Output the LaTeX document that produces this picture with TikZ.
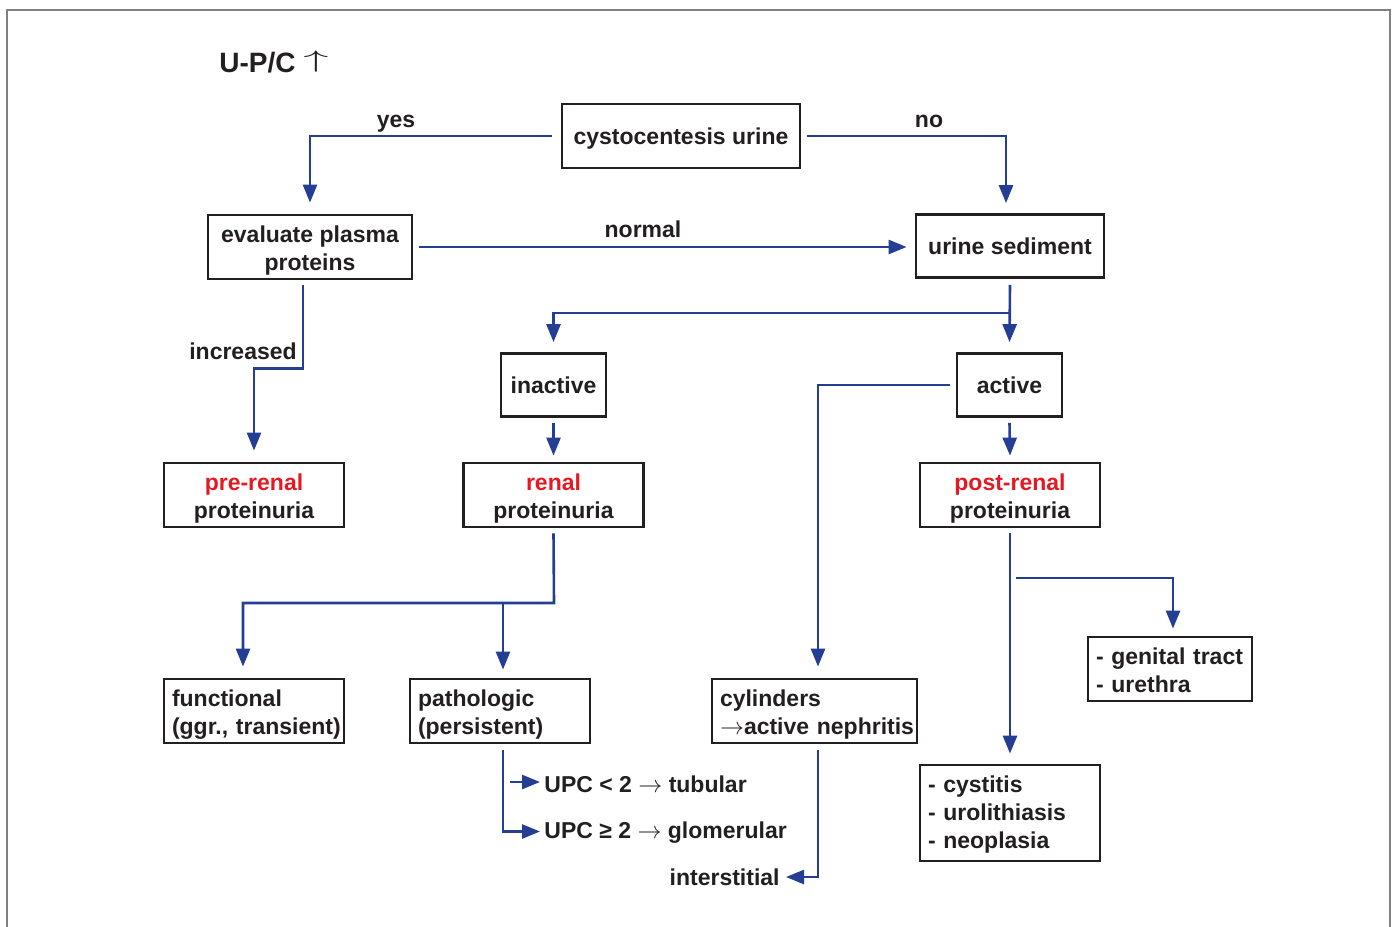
\documentclass[tikz,border=0pt]{standalone}
\usepackage{fontspec}
\usepackage{graphicx}
\setmainfont{Liberation Sans}
\usetikzlibrary{arrows.meta}
\definecolor{fblue}{RGB}{36,62,148}
\definecolor{fred}{RGB}{230,24,34}
\definecolor{fblack}{RGB}{35,31,32}
\definecolor{fgray}{RGB}{128,128,128}
\newcommand{\rar}{$\rightarrow$}
\begin{document}
\begin{tikzpicture}[x=0.5pt,y=-0.5pt,
  txt/.style={font=\bfseries\fontsize{11.5}{14}\selectfont, text=fblack},
  box/.style={txt, draw=fblack, line width=1.4pt, rectangle, inner sep=0pt, align=center, minimum height=32pt, text height=8.4pt, text depth=0pt},
  ctwo/.style={text height=23.5pt, text depth=0pt},
  two/.style={text depth=12.9pt},
  three/.style={text depth=28.9pt},
  lbox/.style={box, inner xsep=4pt, align=left},
  lbl/.style={txt, inner sep=0pt, anchor=base},
  conn/.style={draw=fblue, line width=1.3pt, -{Triangle[length=9pt,width=7pt]}}]
\useasboundingbox (0,0) rectangle (1397,926);
\draw[fgray, line width=1pt] (7,930) -- (7,10) -- (1390,10) -- (1390,930);

% title
\node[anchor=base west, inner sep=0pt, font=\bfseries\fontsize{14}{16}\selectfont, text=fblack] (title) at (219,72) {U-P/C \raisebox{2.2pt}{\fontsize{11.5}{14}\selectfont\scalebox{2.1}[1]{$\uparrow$}}};

% boxes
\node[box, minimum width=119pt] (cysto) at (681,136) {cystocentesis urine};
\node[box, ctwo, minimum width=102pt] (eval) at (310,247) {evaluate plasma\\proteins};
\node[box, minimum width=94pt, minimum height=31.5pt] (sed) at (1010,246) {urine sediment};
\node[box, minimum width=52.5pt, minimum height=31.5pt] (inact) at (553.5,385) {inactive};
\node[box, minimum width=52.5pt, minimum height=31.5pt] (act) at (1009.5,385) {active};
\node[box, ctwo, minimum width=90pt] (pre) at (254,495) {{\color{fred}pre-renal}\\proteinuria};
\node[box, ctwo, minimum width=90pt] (renal) at (553.5,495) {{\color{fred}renal}\\proteinuria};
\node[box, ctwo, minimum width=90pt] (post) at (1010,495) {{\color{fred}post-renal}\\proteinuria};
\node[lbox, two, text width=82pt] (func) at (254,711) {\mbox{functional}\\\mbox{(ggr., transient)}};
\node[lbox, two, text width=82pt] (path) at (500,711) {\mbox{pathologic}\\\mbox{(persistent)}};
\node[lbox, two, text width=94.5pt] (cyl) at (814.5,711) {\mbox{cylinders}\\\mbox{\rar active nephritis}};
\node[lbox, two, text width=74pt] (gen) at (1170,669) {\mbox{- genital tract}\\\mbox{- urethra}};
\node[lbox, three, text width=82pt, minimum height=48pt] (cyst) at (1010,813) {\mbox{- cystitis}\\\mbox{- urolithiasis}\\\mbox{- neoplasia}};

% free labels
\node[lbl] (yes) at (396,127) {yes};
\node[lbl] (no) at (929,127) {no};
\node[lbl] (normal) at (643,237) {normal};
\node[lbl] (incr) at (243,359.5) {increased};
\node[lbl, anchor=base west] (upc1) at (544,792) {UPC < 2 \rar\ tubular};
\node[lbl, anchor=base west] (upc2) at (544,838.5) {UPC ≥ 2 \rar\ glomerular};
\node[lbl, anchor=base east] (inter) at (780,885) {interstitial};

% connectors
\draw[conn] ([xshift=-4.5pt]cysto.west) -| ([yshift=5.5pt]eval.north);
\draw[conn] ([xshift=3pt]cysto.east) -| ([xshift=-2pt,yshift=5pt]sed.north);
\draw[conn] ([xshift=3pt]eval.east) -- ([xshift=-4pt]eval.east -| sed.west);
\draw[conn] ([xshift=-3.5pt,yshift=-2.5pt]eval.south) -- ++(0,83) -| ([yshift=5.5pt]pre.north);

\coordinate (br1) at (1010,313);
\draw[conn] ([yshift=-3pt]sed.south) -- ([yshift=5pt]act.north);
\draw[conn] (br1) -| ([yshift=5pt]inact.north);
\draw[conn] ([yshift=-2.5pt]inact.south) -- ([yshift=3pt]renal.north);
\draw[conn] ([yshift=-2.5pt]act.south) -- ([yshift=3pt]post.north);
\draw[conn] ([xshift=-3pt]act.west) -| ([xshift=1.75pt,yshift=5.5pt]cyl.north);

\coordinate (br2) at (554,603);
\coordinate (br3) at (503,603);
\draw[conn] ([yshift=-2.5pt]renal.south) -- (br2) -| ([xshift=-5.5pt,yshift=5.5pt]func.north);
\draw[conn] (br3) -- ([xshift=1.5pt,yshift=4pt]path.north);

\draw[conn] ([yshift=-2.5pt]post.south) -- ([yshift=5pt]cyst.north);
\coordinate (br4) at (1016,578);
\draw[conn] (br4) -| ([xshift=1.5pt,yshift=3.5pt]gen.north);

\draw[conn] ([xshift=1.5pt,yshift=-3pt]path.south) |- ([xshift=-2pt,yshift=3.5pt]upc2.base west);
\coordinate (t0) at (510,782);
\draw[conn] (t0) -- ([xshift=-2pt,yshift=5pt]upc1.base west);
\draw[conn] ([xshift=1.75pt,yshift=-3pt]cyl.south) |- ([xshift=3pt,yshift=4pt]inter.base east);
\end{tikzpicture}
\end{document}
